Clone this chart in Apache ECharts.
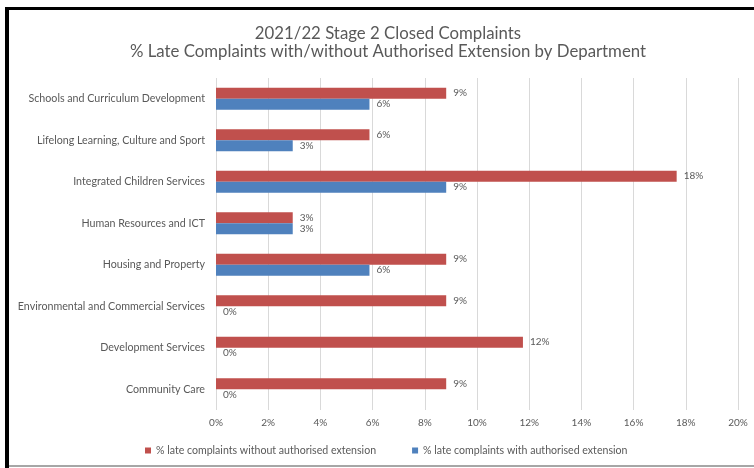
<!DOCTYPE html>
<html>
<head>
<meta charset="utf-8">
<script src="https://cdn.jsdelivr.net/npm/echarts@6/dist/echarts.min.js"></script>
<style>
  html, body { margin: 0; padding: 0; background: #ffffff; }
  #chart { width: 754px; height: 468px; }
</style>
</head>
<body>
<div id="chart"></div>
<script>
// Departments, top to bottom
const departments = [
  'Schools and Curriculum Development',
  'Lifelong Learning, Culture and Sport',
  'Integrated Children Services',
  'Human Resources and ICT',
  'Housing and Property',
  'Environmental and Commercial Services',
  'Development Services',
  'Community Care'
];

// % of late Stage 2 complaints (out of 34 closed)
const withoutExtension = [8.82, 5.88, 17.65, 2.94, 8.82, 8.82, 11.76, 8.82];
const withExtension    = [5.88, 2.94, 8.82, 2.94, 5.88, 0, 0, 0];

const seriesNames = [
  '% late complaints without authorised extension',
  '% late complaints with authorised extension'
];

const titleLines = [
  '2021/22 Stage 2 Closed Complaints',
  '% Late Complaints with/without Authorised Extension by Department'
];

const FONT = 'Lato';
const TEXT = '#595959';

const chart = echarts.init(document.getElementById('chart'), null, { renderer: 'canvas' });

const labelOpt = {
  show: true,
  position: 'right',
  distance: 7,
  color: TEXT,
  fontFamily: FONT,
  fontSize: 10,
  formatter: p => Math.round(p.value) + '%'
};

chart.setOption({
  backgroundColor: '#ffffff',
  animation: false,
  title: {
    text: titleLines.join('\n'),
    left: 383,
    textAlign: 'center',
    top: 19,
    textStyle: {
      fontFamily: FONT,
      fontWeight: 'normal',
      fontSize: 16.8,
      lineHeight: 18.5,
      color: TEXT
    }
  },
  legend: {
    data: seriesNames,
    bottom: 7,
    left: 140,
    icon: 'rect',
    itemWidth: 6,
    itemHeight: 6,
    itemGap: 36,
    textStyle: { fontFamily: FONT, fontSize: 10.6, color: TEXT }
  },
  grid: { left: 216, right: 16, top: 78, bottom: 58, containLabel: false },
  xAxis: {
    type: 'value',
    min: 0,
    max: 20,
    interval: 2,
    axisLine: { show: false },
    axisTick: { show: false },
    splitLine: { show: true, lineStyle: { color: '#d9d9d9', width: 1 } },
    axisLabel: {
      formatter: v => v + '%',
      color: TEXT,
      fontFamily: FONT,
      fontSize: 10,
      margin: 8
    }
  },
  yAxis: {
    type: 'category',
    data: departments,
    inverse: true,
    axisLine: { show: false },
    axisTick: { show: false },
    axisLabel: {
      color: TEXT,
      fontFamily: FONT,
      fontSize: 10.7,
      margin: 11
    }
  },
  series: [
    {
      name: seriesNames[0],
      type: 'bar',
      data: withoutExtension,
      barWidth: 11,
      barGap: '0%',
      itemStyle: { color: '#c0504d' },
      label: labelOpt
    },
    {
      name: seriesNames[1],
      type: 'bar',
      data: withExtension,
      barWidth: 11,
      barGap: '0%',
      itemStyle: { color: '#4f81bd' },
      label: labelOpt
    }
  ],
  graphic: [
    // page frame around the chart
    { type: 'rect', left: 5, top: 7, shape: { width: 749, height: 3 }, style: { fill: '#000000' }, silent: true },
    { type: 'rect', left: 5, top: 7, shape: { width: 4, height: 461 }, style: { fill: '#000000' }, silent: true },
    { type: 'rect', left: 9, top: 465, shape: { width: 745, height: 2 }, style: { fill: '#a6a6a6' }, silent: true }
  ]
});
</script>
</body>
</html>
